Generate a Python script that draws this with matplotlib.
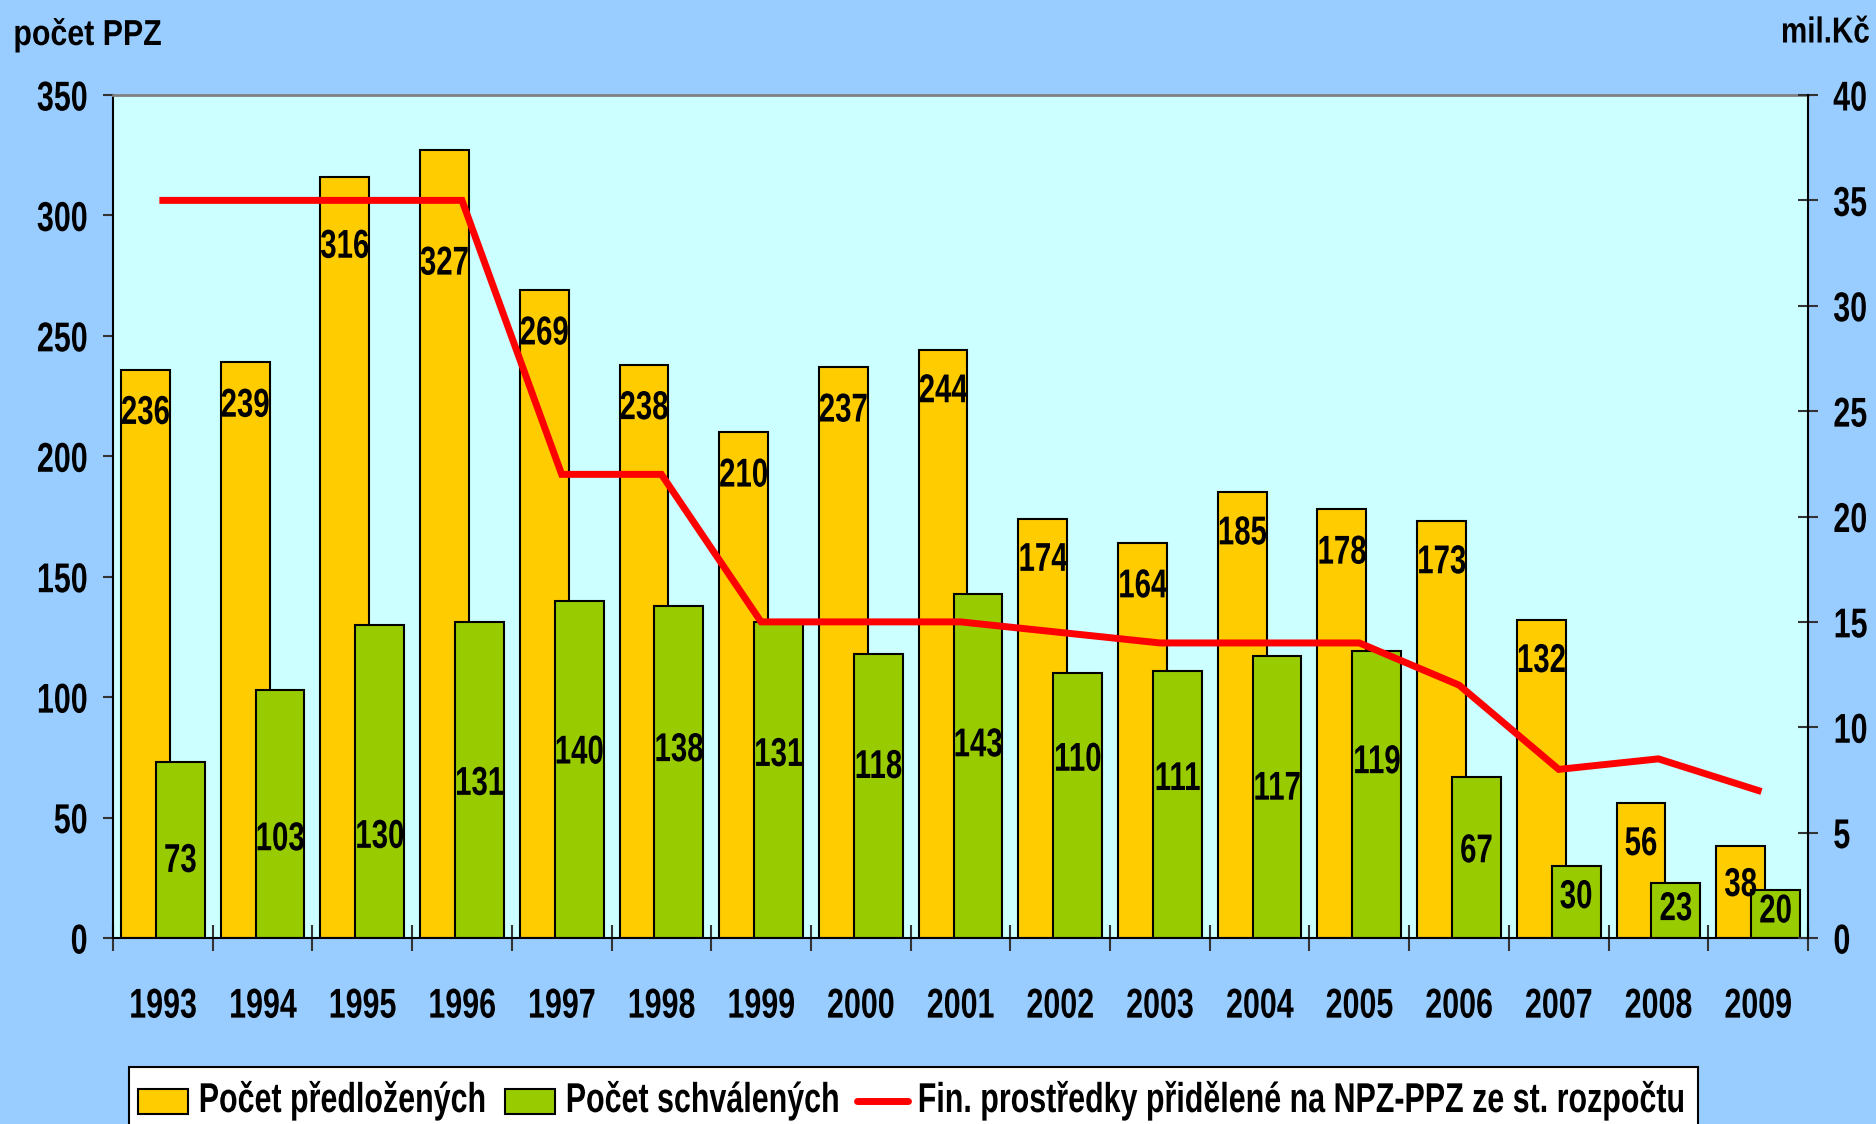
import matplotlib
matplotlib.use('Agg')
import matplotlib.pyplot as plt
from matplotlib.patches import Rectangle
from matplotlib.lines import Line2D
from matplotlib.patheffects import AbstractPathEffect
from matplotlib.transforms import Affine2D, Bbox
import numpy as np

plt.rcParams['font.family'] = ['Liberation Sans', 'DejaVu Sans']
plt.rcParams['font.weight'] = 'bold'

years = ['1993', '1994', '1995', '1996', '1997', '1998', '1999', '2000', '2001',
         '2002', '2003', '2004', '2005', '2006', '2007', '2008', '2009']
submitted = [236, 239, 316, 327, 269, 238, 210, 237, 244, 174, 164, 185, 178, 173, 132, 56, 38]
approved = [73, 103, 130, 131, 140, 138, 131, 118, 143, 110, 111, 117, 119, 67, 30, 23, 20]
funds = [35, 35, 35, 35, 22, 22, 15, 15, 15, 14.5, 14, 14, 14, 12, 8, 8.5, 7]

# label positions (left-axis units) as placed in the original chart
submitted_label_y = [218, 221, 287, 280, 251, 220, 192, 219, 227, 157, 146, 168, 160, 156, 115, 39, 22]
approved_label_y = [32, 41, 42, 64, 77, 78, 76, 71, 80, 74, 66, 62, 73, 36, 17, 12, 11]

legend_labels = ['Počet předložených', 'Počet schválených',
                 'Fin. prostředky přidělené na NPZ-PPZ ze st. rozpočtu']

YELLOW, GREEN, RED = '#FFCC00', '#99CC00', '#FF0000'
SQ = 0.73  # horizontal condensation of the narrow bold font


class XSqueeze(AbstractPathEffect):
    """Draw text horizontally condensed (narrow font look)."""
    def __init__(self, factor, anchor='center'):
        super().__init__()
        self.factor = factor
        self.anchor = anchor

    def draw_path(self, renderer, gc, tpath, affine, rgbFace=None):
        bb = tpath.get_extents(affine)
        if self.anchor == 'left':
            x0 = bb.x0
        elif self.anchor == 'right':
            x0 = bb.x1
        else:
            x0 = (bb.x0 + bb.x1) / 2
        new_aff = affine + Affine2D().translate(-x0, 0).scale(self.factor, 1).translate(x0, 0)
        renderer.draw_path(gc, tpath, new_aff, rgbFace)


def squeeze(t, anchor='center', f=SQ):
    t.set_path_effects([XSqueeze(f, anchor)])
    orig = t.get_window_extent

    def gwe(renderer=None, dpi=None):
        bb = orig(renderer, dpi)
        if anchor == 'left':
            x0 = bb.x0
        elif anchor == 'right':
            x0 = bb.x1
        else:
            x0 = (bb.x0 + bb.x1) / 2
        return Bbox([[x0 + (bb.x0 - x0) * f, bb.y0], [x0 + (bb.x1 - x0) * f, bb.y1]])

    t.get_window_extent = gwe
    return t


W, H = 1876, 1124
fig = plt.figure(figsize=(W / 100, H / 100), dpi=100, facecolor='#99CCFF')
ax = fig.add_axes([113 / W, 1 - 938 / H, (1808 - 113) / W, (938 - 95) / H])
ax.set_facecolor('#CCFFFF')

x = np.arange(len(years))
bw = 0.49
off = 0.175
ax.bar(x - off, submitted, bw, color=YELLOW, edgecolor='black', linewidth=1.5, zorder=2)
ax.bar(x + off, approved, bw, color=GREEN, edgecolor='black', linewidth=1.5, zorder=2)

ax.set_xlim(-0.5, len(years) - 0.5)
ax.set_ylim(0, 350)
ax.set_yticks(np.arange(0, 351, 50))
ax.set_xticks(x)
ax.set_xticklabels(years)
ax.set_xticks(np.arange(-0.5, len(years), 1), minor=True)
ax.tick_params(axis='x', which='major', length=0, pad=35, labelsize=30)
ax.tick_params(axis='x', which='minor', direction='inout', length=19, width=1.5, color='#333333')
ax.tick_params(axis='y', direction='out', length=7, width=1.5, color='#333333', pad=11, labelsize=30)

for s in ['left', 'bottom']:
    ax.spines[s].set_color('black')
    ax.spines[s].set_linewidth(1.5)
ax.spines['top'].set_color('#808080')
ax.spines['top'].set_linewidth(2)
ax.spines['right'].set_visible(False)

ax2 = ax.twinx()
ax2.patch.set_visible(False)
ax2.plot(x, funds, color=RED, linewidth=5, solid_joinstyle='miter', zorder=3)
ax2.set_ylim(0, 40)
ax2.set_yticks(np.arange(0, 41, 5))
ax2.tick_params(axis='y', direction='inout', length=14, width=1.5, color='#333333', pad=11, labelsize=30)
for s in ['left', 'bottom', 'top']:
    ax2.spines[s].set_visible(False)
ax2.spines['right'].set_color('black')
ax2.spines['right'].set_linewidth(1.5)

for lbl in ax.get_xticklabels():
    squeeze(lbl, 'center')
for lbl in ax.get_yticklabels():
    squeeze(lbl, 'right')
for lbl in ax2.get_yticklabels():
    squeeze(lbl, 'left')

# data labels (drawn on top)
for i in range(len(years)):
    squeeze(ax2.text(x[i] - off, submitted_label_y[i] * 40 / 350, str(submitted[i]), ha='center',
                     va='center', fontsize=29, fontweight='bold', zorder=5))
    squeeze(ax2.text(x[i] + off, approved_label_y[i] * 40 / 350, str(approved[i]), ha='center',
                     va='center', fontsize=29, fontweight='bold', zorder=5))

squeeze(fig.text(13 / W, 1 - 35 / H, 'počet PPZ', ha='left', va='center', fontsize=26,
                 fontweight='bold'), 'left', 0.84)
squeeze(fig.text(1870 / W, 1 - 33 / H, 'mil.Kč', ha='right', va='center', fontsize=26,
                 fontweight='bold'), 'right', 0.82)

# legend box (bottom, partly cut off as in the original)
tf = fig.transFigure
fig.add_artist(Rectangle((129 / W, 1 - 1134 / H), (1698 - 129) / W, (1134 - 1067) / H,
                         transform=tf, facecolor='white', edgecolor='black', linewidth=1.5))
base_y = 1 - 1112 / H
fig.add_artist(Rectangle((138 / W, 1 - 1114 / H), 50 / W, 25 / H, transform=tf,
                         facecolor=YELLOW, edgecolor='black', linewidth=1.5))
fig.add_artist(Rectangle((505 / W, 1 - 1114 / H), 50 / W, 25 / H, transform=tf,
                         facecolor=GREEN, edgecolor='black', linewidth=1.5))
fig.add_artist(Line2D([857 / W, 908 / W], [1 - 1101 / H, 1 - 1101 / H], transform=tf,
                      color=RED, linewidth=5, solid_capstyle='round'))
for xpos, txt in zip([198, 565, 917], legend_labels):
    squeeze(fig.text(xpos / W, base_y, txt, ha='left', va='baseline', fontsize=30,
                     fontweight='bold'), 'left')

fig.savefig('out.png', dpi=100, facecolor=fig.get_facecolor())
